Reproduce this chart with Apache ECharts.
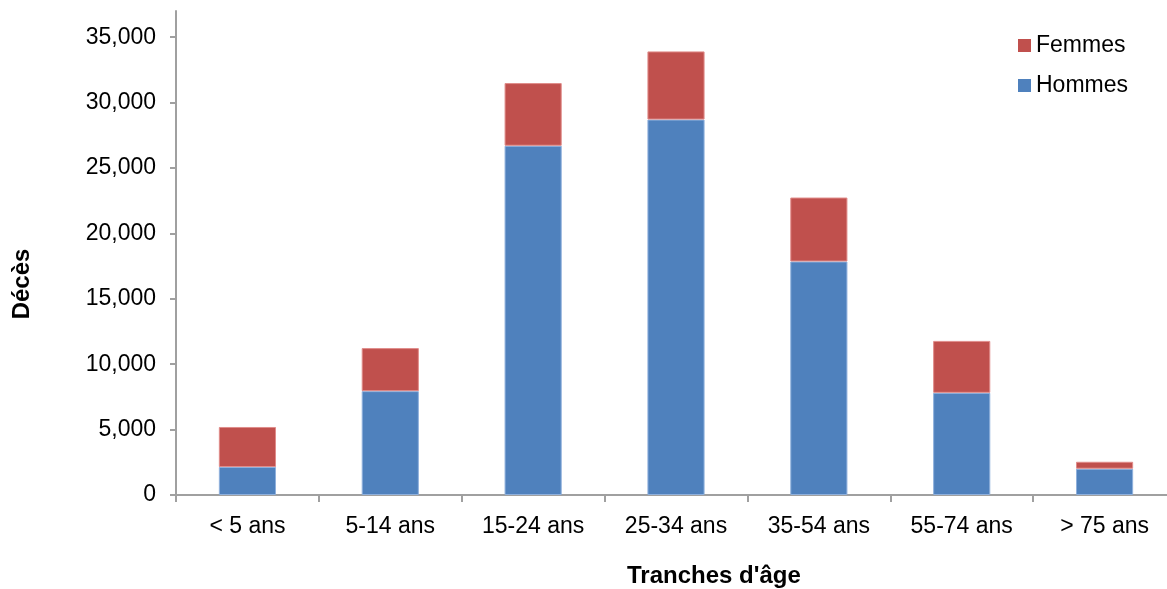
<!DOCTYPE html>
<html>
<head>
<meta charset="utf-8">
<script src="https://cdn.jsdelivr.net/npm/echarts@6/dist/echarts.min.js"></script>
<style>
html,body{margin:0;padding:0;background:#fff;overflow:hidden;}
#c{width:1177px;height:589px;}
</style>
</head>
<body>
<div id="c"></div>
<script>
const categories = ['< 5 ans', '5-14 ans', '15-24 ans', '25-34 ans', '35-54 ans', '55-74 ans', '> 75 ans'];
const hommes = [2140, 7940, 26700, 28700, 17850, 7810, 2010];
const femmes = [3060, 3290, 4790, 5210, 4890, 3970, 530];
const yTicks = [0, 5000, 10000, 15000, 20000, 25000, 30000, 35000];
const yTitle = 'Décès';
const xTitle = "Tranches d'âge";

const FONT = '"Liberation Sans", Arial, sans-serif';
const chart = echarts.init(document.getElementById('c'));
chart.setOption({
  animation: false,
  backgroundColor: '#fff',
  grid: { left: 176, top: 11, width: 1000, height: 484, containLabel: false },
  legend: {
    orient: 'vertical',
    left: 1018,
    top: 34,
    padding: 0,
    data: ['Femmes', 'Hommes'],
    icon: 'rect',
    itemWidth: 13,
    itemHeight: 13,
    itemGap: 17,
    itemStyle: { borderWidth: 0 },
    textStyle: { fontFamily: FONT, fontSize: 23, color: '#000', lineHeight: 22 }
  },
  xAxis: {
    type: 'category',
    data: categories,
    axisLine: { lineStyle: { color: '#a0a0a0', width: 2 } },
    axisTick: { show: true, length: 7, lineStyle: { color: '#a0a0a0', width: 2 } },
    axisLabel: { fontFamily: FONT, fontSize: 23, color: '#000', margin: 20, interval: 0 }
  },
  yAxis: {
    type: 'value',
    min: 0,
    max: 37000,
    interval: 5000,
    splitLine: { show: false },
    axisLine: { show: true, lineStyle: { color: '#a0a0a0', width: 2 } },
    axisTick: { show: true, length: 6, customValues: yTicks, lineStyle: { color: '#a0a0a0', width: 2 } },
    axisLabel: {
      fontFamily: FONT, fontSize: 23, color: '#000', margin: 20,
      customValues: yTicks,
      formatter: v => v.toLocaleString('en-US')
    }
  },
  series: [
    {
      name: 'Hommes', type: 'bar', stack: 'total', data: hommes, barWidth: '40%',
      itemStyle: { color: '#4F81BD', borderColor: '#8fb0dc', borderWidth: 1 }
    },
    {
      name: 'Femmes', type: 'bar', stack: 'total', data: femmes, barWidth: '40%',
      itemStyle: { color: '#C0504D', borderColor: '#e08c8a', borderWidth: 1 }
    }
  ],
  graphic: [
    {
      type: 'text', left: 627, top: 564,
      style: { text: xTitle, fontFamily: FONT, fontSize: 24, fontWeight: 'bold', fill: '#000' }
    },
    {
      type: 'text', x: 22, y: 284, rotation: Math.PI / 2,
      style: { text: yTitle, fontFamily: FONT, fontSize: 24, fontWeight: 'bold', fill: '#000', align: 'center', verticalAlign: 'middle' }
    }
  ]
});
</script>
</body>
</html>
